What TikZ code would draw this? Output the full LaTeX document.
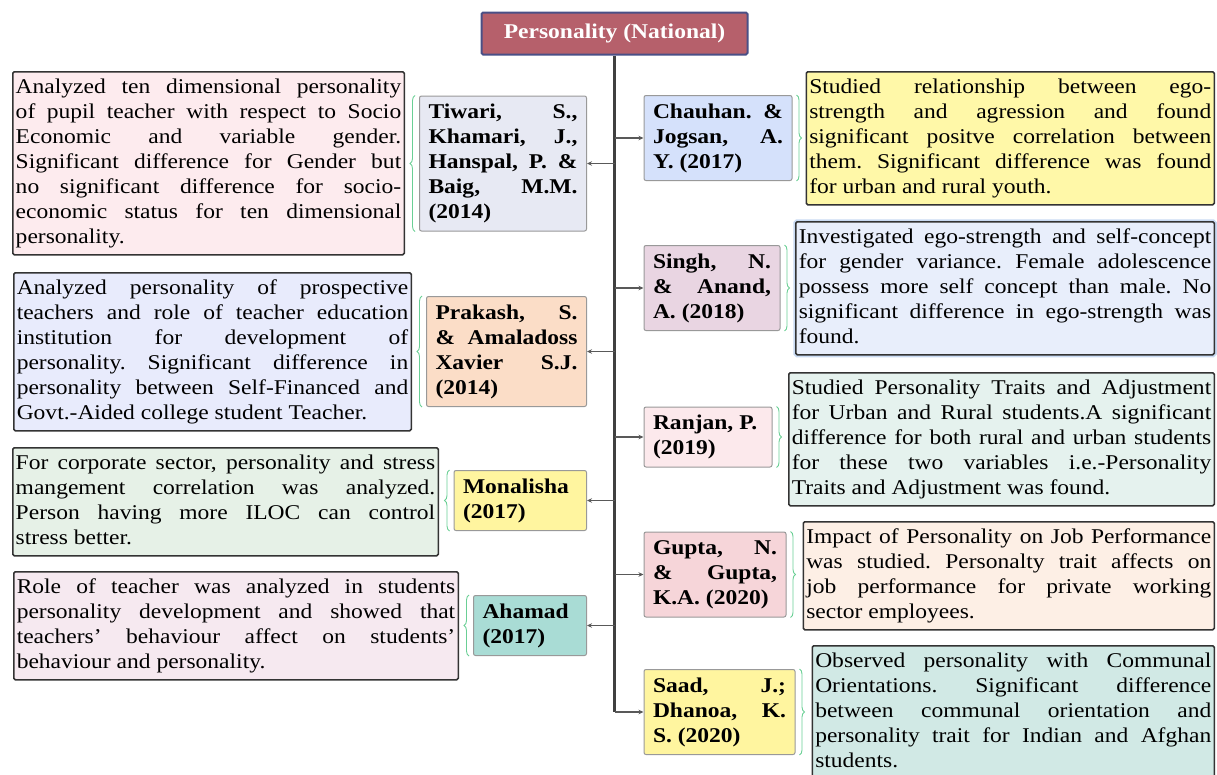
\documentclass[tikz,border=0pt]{standalone}
\usepackage{fontspec}
\setmainfont[FakeStretch=1.12]{Liberation Serif}
\usetikzlibrary{arrows.meta, decorations.pathreplacing}
\definecolor{titlefill}{HTML}{B6606B}
\definecolor{titleline}{HTML}{4A4F86}
\definecolor{bracegreen}{HTML}{6ACF95}
\definecolor{glowblue}{HTML}{C9DAF2}
% author boxes
\definecolor{tiwarifill}{HTML}{E7E9F3}
\definecolor{prakashfill}{HTML}{FBDDC7}
\definecolor{monalishafill}{HTML}{FFF59F}
\definecolor{ahamadfill}{HTML}{A9DCD5}
\definecolor{chauhanfill}{HTML}{D5E1FB}
\definecolor{singhfill}{HTML}{E9D5E2}
\definecolor{ranjanfill}{HTML}{FCE9EC}
\definecolor{guptafill}{HTML}{F6D5D9}
\definecolor{saadfill}{HTML}{FFF59F}
% description boxes
\definecolor{tiwaridfill}{HTML}{FDEBEE}
\definecolor{prakashdfill}{HTML}{E8EBFC}
\definecolor{monalishadfill}{HTML}{E6F1E7}
\definecolor{ahamaddfill}{HTML}{F6E9F0}
\definecolor{chauhandfill}{HTML}{FFF8A8}
\definecolor{singhdfill}{HTML}{E8EEFB}
\definecolor{ranjandfill}{HTML}{E5F2EE}
\definecolor{guptadfill}{HTML}{FDEFE5}
\definecolor{saaddfill}{HTML}{D1E9E5}
\newcommand{\descfont}{\fontsize{21}{25}\selectfont}
\hyphenpenalty=10000 \exhyphenpenalty=10000
\tolerance=10000 \hbadness=10000
\frenchspacing

\begin{document}
\begin{tikzpicture}[x=1pt, y=-1pt,
  desc/.style={draw=black!80, line width=1.5pt, rounded corners=1.5pt, anchor=north west,
    inner xsep=3pt, inner ysep=4pt, align=justify, font=\descfont},
  author/.style={draw=black!40, line width=1pt, rounded corners=2pt, inner xsep=9pt,
    inner ysep=5pt, align=justify, font={\descfont\bfseries}},
  branch/.style={draw=black!65, line width=1.4pt, -{Stealth[length=5pt,width=4.5pt]}},
  trunk/.style={draw=black!75, line width=2.6pt},
  brace/.style={draw=bracegreen, line width=0.9pt, decorate, decoration={brace, amplitude=5pt}}]
\clip (0,0) rectangle (1217,774);

\node[draw=titleline, fill=titlefill, line width=2pt, rounded corners=1.5pt, minimum width=266pt,
  minimum height=42pt, inner sep=0pt, text=white, font={\descfont\bfseries}] (natl) at (614.5,33.5) {Personality (National)};

% left side
\node[author, fill=tiwarifill, text width=149pt, anchor=east] (tiwari) at (587,163.5)
  {\strut Tiwari, S.,\linebreak Khamari, J.,\linebreak Hanspal, P. \&\linebreak Baig, M.M.\linebreak (2014)\strut};
\node[author, fill=prakashfill, text width=142pt, anchor=east] (prakash) at (587,351.5)
  {\strut Prakash, S.\linebreak \& Amaladoss\linebreak Xavier S.J.\linebreak (2014)\strut};
\node[author, fill=monalishafill, text width=114.5pt, anchor=east] (monalisha) at (587,500.5)
  {\strut Monalisha\\(2017)\strut};
\node[author, fill=ahamadfill, text width=95pt, anchor=east] (ahamad) at (587,625.5)
  {\strut Ahamad\\(2017)\strut};

\node[desc, fill=tiwaridfill, text width=385.5pt] (tiwaridesc) at (12,71)
  {\strut Analyzed ten dimensional personality\linebreak of pupil teacher with respect to Socio\linebreak Economic and variable gender.\linebreak Significant difference for Gender but\linebreak no significant difference for socio-\linebreak economic status for ten dimensional\linebreak personality.\strut};
\node[desc, fill=prakashdfill, text width=391.5pt] (prakashdesc) at (13,272)
  {\strut Analyzed personality of prospective\linebreak teachers and role of teacher education\linebreak institution for development of\linebreak personality. Significant difference in\linebreak personality between Self-Financed and\linebreak Govt.-Aided college student Teacher.\strut};
\node[desc, fill=monalishadfill, text width=419.5pt] (monalishadesc) at (12,447)
  {\strut For corporate sector, personality and stress\linebreak mangement correlation was analyzed.\linebreak Person having more ILOC can control\linebreak stress better.\strut};
\node[desc, fill=ahamaddfill, text width=438.5pt] (ahamaddesc) at (13,571)
  {\strut Role of teacher was analyzed in students\linebreak personality development and showed that\linebreak teachers’ behaviour affect on students’\linebreak behaviour and personality.\strut};

% right side
\node[author, fill=chauhanfill, text width=130pt, anchor=west] (chauhan) at (643.5,138)
  {\strut Chauhan. \&\linebreak Jogsan, A.\linebreak Y. (2017)\strut};
\node[author, fill=singhfill, text width=118pt, anchor=west] (singh) at (643.5,288)
  {\strut Singh, N.\linebreak \& Anand,\linebreak A. (2018)\strut};
\node[author, fill=ranjanfill, text width=110pt, anchor=west] (ranjan) at (643.5,437)
  {\strut Ranjan, P.\\(2019)\strut};
\node[author, fill=guptafill, text width=124pt, anchor=west] (gupta) at (643.5,574.5)
  {\strut Gupta, N.\linebreak \& Gupta,\linebreak K.A. (2020)\strut};
\node[author, fill=saadfill, text width=133pt, anchor=west] (saad) at (643.5,712)
  {\strut Saad, J.;\linebreak Dhanoa, K.\linebreak S. (2020)\strut};

\node[desc, fill=chauhandfill, text width=402pt] (chauhandesc) at (805.5,71)
  {\strut Studied relationship between ego-\linebreak strength and agression and found\linebreak significant positve correlation between\linebreak them. Significant difference was found\linebreak for urban and rural youth.\strut};
\node[desc, fill=singhdfill, text width=412.5pt, preaction={draw=glowblue, line width=5pt}] (singhdesc) at (795,221)
  {\strut Investigated ego-strength and self-concept\linebreak for gender variance. Female adolescence\linebreak possess more self concept than male. No\linebreak significant difference in ego-strength was\linebreak found.\strut};
\node[desc, fill=ranjandfill, text width=419.5pt] (ranjandesc) at (788,372)
  {\strut Studied Personality Traits and Adjustment\linebreak for Urban and Rural students.A significant\linebreak difference for both rural and urban students\linebreak for these two variables i.e.-Personality\linebreak Traits and Adjustment was found.\strut};
\node[desc, fill=guptadfill, text width=405pt] (guptadesc) at (802.5,521)
  {\strut Impact of Personality on Job Performance\linebreak was studied. Personalty trait affects on\linebreak job performance for private working\linebreak sector employees.\strut};
\node[desc, fill=saaddfill, text width=396pt] (saaddesc) at (811.5,645)
  {\strut Observed personality with Communal\linebreak Orientations. Significant difference\linebreak between communal orientation and\linebreak personality trait for Indian and Afghan\linebreak students.\strut};

% trunk and branches
\coordinate (trunkend) at (natl.south |- saad.west);
\draw[trunk] (natl.south) -- (trunkend);
\draw[branch] (natl.south |- tiwari.east) -- (tiwari.east);
\draw[branch] (natl.south |- prakash.east) -- (prakash.east);
\draw[branch] (natl.south |- monalisha.east) -- (monalisha.east);
\draw[branch] (natl.south |- ahamad.east) -- (ahamad.east);
\draw[branch] (natl.south |- chauhan.west) -- (chauhan.west);
\draw[branch] (natl.south |- singh.west) -- (singh.west);
\draw[branch] (natl.south |- ranjan.west) -- (ranjan.west);
\draw[branch] (natl.south |- gupta.west) -- (gupta.west);
\draw[branch] (trunkend) -- (saad.west);

% braces
\draw[brace] ([xshift=-4pt]tiwari.south west) -- ([xshift=-4pt]tiwari.north west);
\draw[brace] ([xshift=-4pt]prakash.south west) -- ([xshift=-4pt]prakash.north west);
\draw[brace] ([xshift=-4pt]monalisha.south west) -- ([xshift=-4pt]monalisha.north west);
\draw[brace] ([xshift=-4pt]ahamad.south west) -- ([xshift=-4pt]ahamad.north west);
\draw[brace] ([xshift=4pt]chauhan.north east) -- ([xshift=4pt]chauhan.south east);
\draw[brace] ([xshift=4pt]singh.north east) -- ([xshift=4pt]singh.south east);
\draw[brace] ([xshift=4pt]ranjan.north east) -- ([xshift=4pt]ranjan.south east);
\draw[brace] ([xshift=4pt]gupta.north east) -- ([xshift=4pt]gupta.south east);
\draw[brace] ([xshift=4pt]saad.north east) -- ([xshift=4pt]saad.south east);
\end{tikzpicture}
\end{document}
